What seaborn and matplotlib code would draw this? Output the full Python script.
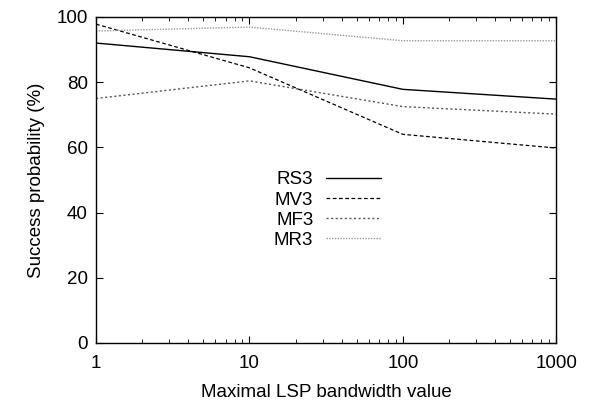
import matplotlib
matplotlib.use('Agg')
import matplotlib.pyplot as plt
import seaborn as sns
import pandas as pd

bandwidth = [1, 10, 100, 1000]
rs3 = [92.0, 87.8, 77.8, 74.8]
mv3 = [97.8, 84.4, 64.0, 59.8]
mf3 = [75.0, 80.4, 72.5, 70.2]
mr3 = [95.7, 96.9, 92.7, 92.7]

sns.set_style('ticks')
plt.rcParams['font.family'] = ['Liberation Sans', 'DejaVu Sans']
plt.rcParams['text.color'] = 'black'
plt.rcParams['axes.labelcolor'] = 'black'

df = pd.DataFrame({'x': bandwidth * 4,
                   'y': rs3 + mv3 + mf3 + mr3,
                   'series': ['RS3'] * 4 + ['MV3'] * 4 + ['MF3'] * 4 + ['MR3'] * 4})

fig, ax = plt.subplots(figsize=(5.93, 4.04), dpi=100)
styles = {'RS3': ('black', '-', 1.0), 'MV3': ('black', (0, (3, 2)), 0.9),
          'MF3': ('#555555', (0, (1.5, 1.8)), 1.0), 'MR3': ('#999999', (0, (1, 1)), 1.0)}
for name in ['RS3', 'MV3', 'MF3', 'MR3']:
    c, ls, lw = styles[name]
    sns.lineplot(data=df[df.series == name], x='x', y='y', ax=ax, color=c,
                 linestyle=ls, linewidth=lw, label=name)

fs = 13.5
ax.set_xscale('log')
ax.set_xlim(1, 1000)
ax.set_ylim(0, 100)
ax.set_yticks([0, 20, 40, 60, 80, 100])
ax.set_xticks([1, 10, 100, 1000])
ax.set_xticklabels(['1', '10', '100', '1000'])
ax.tick_params(which='both', direction='in', top=True, right=True, labelsize=fs, colors='black')
ax.tick_params(axis='x', pad=9)
ax.tick_params(axis='y', pad=6)
ax.tick_params(which='major', length=5)
ax.tick_params(which='minor', length=3)
ax.set_xlabel('Maximal LSP bandwidth value', fontsize=fs, labelpad=8)
ax.set_ylabel('Success probability (%)', fontsize=fs, labelpad=8)
for s in ax.spines.values():
    s.set_linewidth(1.0)
    s.set_color('black')

leg = ax.legend(loc='center', bbox_to_anchor=(0.552, 0.48), bbox_transform=fig.transFigure,
                frameon=False, markerfirst=False, fontsize=fs, handlelength=2.9,
                labelspacing=0.16, handletextpad=0.7)

fig.subplots_adjust(left=0.162, right=0.938, top=0.958, bottom=0.151)
fig.savefig('out.png', dpi=100)
